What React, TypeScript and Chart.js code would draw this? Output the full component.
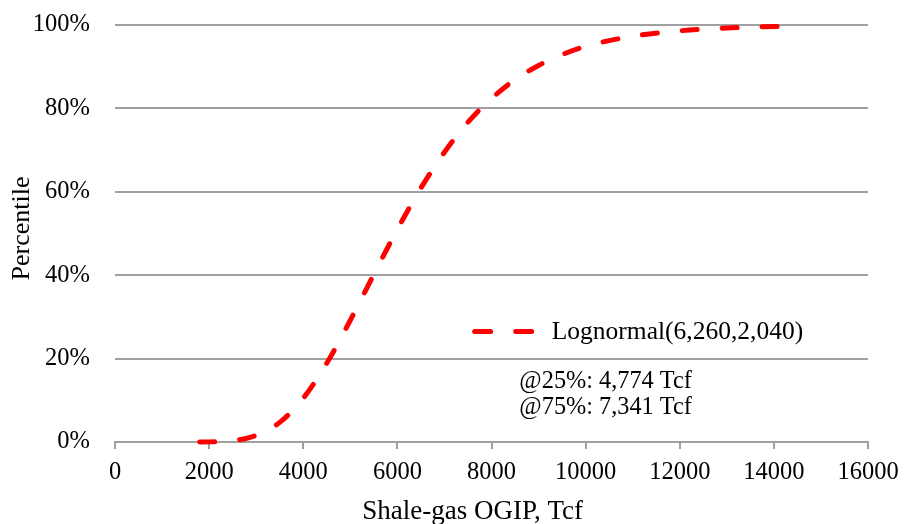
import React, { useEffect, useRef } from "react";
import { Chart, registerables } from "chart.js";

Chart.register(...registerables);

const ogipTcf = [1800, 2000, 2500, 3000, 3500, 4000, 4500, 5000, 5500, 6000, 6500, 7000, 7500, 8000, 8500, 9000, 9500, 10000, 11000, 12000, 13000, 14500];
const percentile = [0.0, 0.03, 0.3, 1.6, 4.7, 10.5, 18.9, 29.2, 40.2, 51.0, 60.9, 69.5, 76.7, 82.4, 86.9, 90.3, 92.9, 94.9, 97.3, 98.6, 99.3, 99.75];
const seriesLabel = "Lognormal(6,260,2,040)";
const annotationLines = ["@25%: 4,774 Tcf", "@75%: 7,341 Tcf"];
const xTitle = "Shale-gas OGIP, Tcf";
const yTitle = "Percentile";

const FONT = "'Liberation Serif', 'Times New Roman', serif";
const RED = "#ff0000";
const GRID = "#a0a0a0";

const legendPlugin = {
  id: "customLegend",
  afterDatasetsDraw(chart: any) {
    const { ctx, chartArea } = chart;
    const w = chartArea.right - chartArea.left;
    const h = chartArea.bottom - chartArea.top;
    const lx0 = chartArea.left + w * 0.475;
    const lx1 = chartArea.left + w * 0.56;
    const ly = chartArea.top + h * 0.735;
    ctx.save();
    ctx.strokeStyle = RED;
    ctx.lineWidth = 5;
    ctx.lineCap = "round";
    ctx.setLineDash([16, 25]);
    ctx.beginPath();
    ctx.moveTo(lx0 + 2, ly);
    ctx.lineTo(lx1, ly);
    ctx.stroke();
    ctx.setLineDash([]);
    ctx.fillStyle = "#000";
    ctx.textBaseline = "middle";
    ctx.textAlign = "left";
    ctx.font = `25.5px ${FONT}`;
    ctx.fillText(seriesLabel, chartArea.left + w * 0.58, ly + 1);
    ctx.font = `24.3px ${FONT}`;
    annotationLines.forEach((t, i) => {
      ctx.fillText(t, chartArea.left + w * 0.537, chartArea.top + h * 0.855 + i * 26);
    });
    // axis titles
    ctx.textAlign = "center";
    ctx.font = `27px ${FONT}`;
    ctx.fillText(xTitle, chartArea.left + w * 0.475, chartArea.bottom + 70);
    ctx.save();
    ctx.translate(22, chartArea.top + h * 0.488);
    ctx.rotate(-Math.PI / 2);
    ctx.font = `26px ${FONT}`;
    ctx.fillText(yTitle, 0, 0);
    ctx.restore();
    ctx.restore();
  },
};

export default function App() {
  const ref = useRef<HTMLCanvasElement | null>(null);
  useEffect(() => {
    if (!ref.current) return;
    const chart = new Chart(ref.current, {
      type: "scatter",
      data: {
        datasets: [
          {
            label: seriesLabel,
            data: ogipTcf.map((x, i) => ({ x, y: percentile[i] })),
            showLine: true,
            borderColor: RED,
            backgroundColor: RED,
            borderWidth: 5,
            borderDash: [15, 25],
            borderCapStyle: "round",
            pointRadius: 0,
            tension: 0.4,
            cubicInterpolationMode: "monotone",
            clip: false,
          } as any,
        ],
      },
      options: {
        animation: false,
        responsive: false,
        devicePixelRatio: 1,
        layout: { padding: { top: 25, right: 36, left: 0, bottom: 0 } },
        plugins: { legend: { display: false }, tooltip: { enabled: false } },
        scales: {
          x: {
            type: "linear",
            min: 0,
            max: 16000,
            ticks: {
              stepSize: 2000,
              color: "#000",
              font: { family: FONT, size: 24.5, lineHeight: 1.6 },
              padding: 4,
              maxRotation: 0,
              callback: (v: any) => String(v),
            },
            grid: {
              drawOnChartArea: false,
              drawTicks: true,
              tickLength: 7,
              color: GRID,
              lineWidth: 2,
            },
            border: { display: true, color: GRID, width: 2 },
            title: { display: false },
            afterFit: (s: any) => {
              s.height = 82;
            },
          },
          y: {
            min: 0,
            max: 100,
            ticks: {
              stepSize: 20,
              color: "#000",
              font: { family: FONT, size: 24.5 },
              padding: 0,
              callback: (v: any) => v + "%",
            },
            grid: {
              color: GRID,
              lineWidth: 2,
              drawTicks: true,
              tickLength: 25,
              tickColor: "rgba(0,0,0,0)",
            },
            border: { display: false },
            title: { display: false },
            afterFit: (s: any) => {
              s.width = 115;
            },
          },
        },
      },
      plugins: [legendPlugin],
    });
    return () => chart.destroy();
  }, []);
  return (
    <div style={{ position: "absolute", left: 0, top: 0, width: 904, height: 524, background: "#fff" }}>
      <canvas ref={ref} width={904} height={524} />
    </div>
  );
}
